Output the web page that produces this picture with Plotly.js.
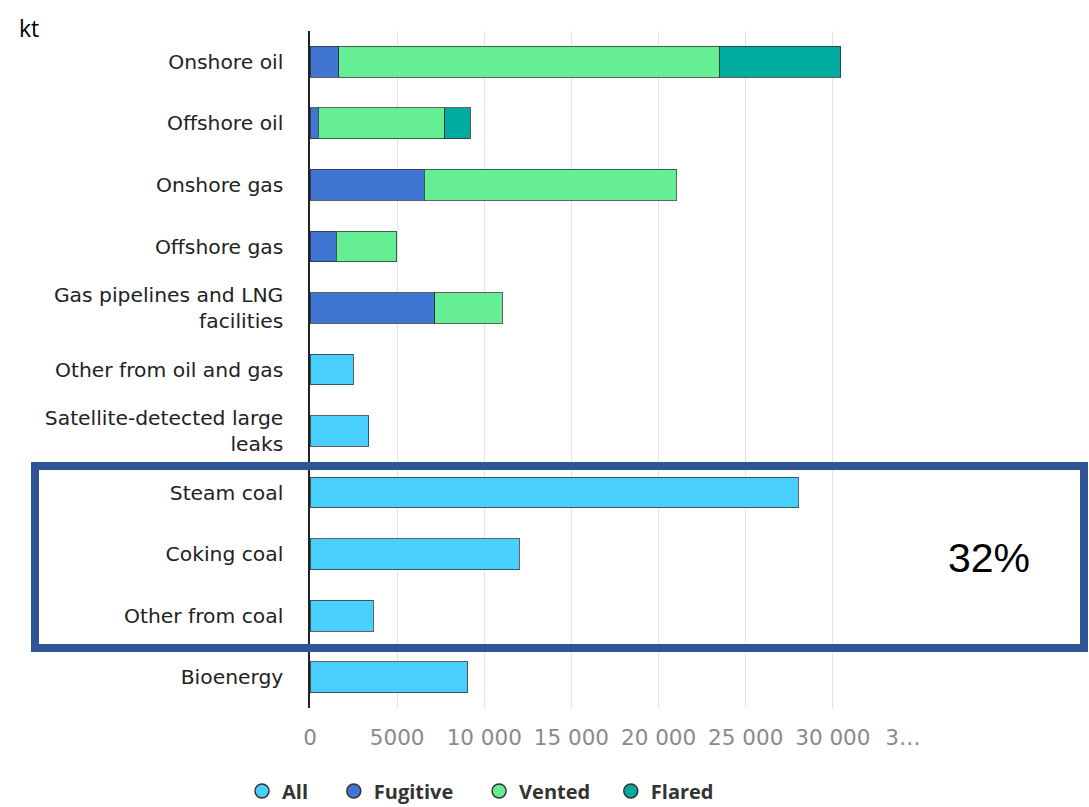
<!DOCTYPE html>
<html>
<head>
<meta charset="utf-8">
<script src="https://cdn.plot.ly/plotly-3.0.1.min.js"></script>
<style>html,body{margin:0;padding:0;background:#fff;}#chart{width:1089px;height:807px;}</style>
</head>
<body>
<div id="chart"></div>
<script>
// ---- data (kt) ----
const categories = [
  "Onshore oil", "Offshore oil", "Onshore gas", "Offshore gas",
  "Gas pipelines and LNG<br>facilities", "Other from oil and gas",
  "Satellite-detected large<br>leaks", "Steam coal", "Coking coal",
  "Other from coal", "Bioenergy"
];
const allValues      = [null, null, null, null, null, 2470, 3380, 28000, 12000, 3640, 9060];
const fugitiveValues = [1660, 470, 6550, 1520, 7150, null, null, null, null, null, null];
const ventedValues   = [21850, 7250, 14450, 3470, 3880, null, null, null, null, null, null];
const flaredValues   = [6940, 1480, null, null, null, null, null, null, null, null, null];
const tickValues = [0, 5000, 10000, 15000, 20000, 25000, 30000, 35000];
const tickLabels = ["0", "5000", "10 000", "15 000", "20 000", "25 000", "30 000", "3…"];
const seriesNames = ["All", "Fugitive", "Vented", "Flared"];
const seriesColors = ["#48CFFD", "#3F76D3", "#66EE94", "#00AB9F"];
const unitLabel = "kt";
const highlightLabel = "32%";

const pads = ["\u00a0\u00a0\u00a0\u00a0", "\u00a0\u00a0\u00a0\u00a0", "\u00a0\u00a0\u00a0", ""];
const outline = {color: "rgba(45,45,45,0.75)", width: 1};
const seriesValues = [allValues, fugitiveValues, ventedValues, flaredValues];

// truncated last label keeps the left edge of the full "35 000" label
const shownTicks = tickLabels.map((t, i) => i === tickLabels.length - 1 ? t + "\u00a0\u00a0\u00a0\u00a0\u00a0" : t);

const traces = [];
seriesValues.forEach((vals, i) => {
  traces.push({
    type: "bar", orientation: "h",
    y: categories, x: vals,
    name: seriesNames[i],
    marker: {color: seriesColors[i], line: outline},
    width: 0.5,
    showlegend: false,
    hoverinfo: "x+name"
  });
});
// legend entries (circle symbols)
seriesNames.forEach((n, i) => {
  traces.push({
    type: "scatter", mode: "markers",
    x: [null], y: [null],
    name: n + pads[i],
    marker: {symbol: "circle", size: 14, color: seriesColors[i], line: {color: "#333", width: 1.5}},
    showlegend: true, hoverinfo: "skip"
  });
});

const PL = 310, PR = 920, PT = 31, PB = 708;
const W = PR - PL, H = PB - PT;
const px = v => (v - PL) / W;
const py = v => (PB - v) / H;

const layout = {
  width: 1089, height: 807,
  margin: {l: PL, r: 1089 - PR, t: PT, b: 807 - PB, autoexpand: false},
  paper_bgcolor: "#fff", plot_bgcolor: "#fff",
  barmode: "stack",
  font: {family: "DejaVu Sans, sans-serif", color: "#222"},
  xaxis: {
    range: [0, 35000], fixedrange: true,
    tickmode: "array", tickvals: tickValues, ticktext: shownTicks,
    showgrid: true, gridcolor: "#e3e3e3", gridwidth: 1.2,
    zeroline: false, showline: false,
    ticks: "outside", ticklen: 10, tickcolor: "rgba(0,0,0,0)",
    tickfont: {family: "DejaVu Sans, sans-serif", size: 21.5, color: "#8a8a8a"}
  },
  yaxis: {
    type: "category", autorange: "reversed", fixedrange: true,
    showgrid: false, zeroline: false,
    showline: true, linecolor: "#222", linewidth: 1.6,
    ticks: "outside", ticklen: 21, tickcolor: "rgba(0,0,0,0)",
    tickfont: {family: "DejaVu Sans, sans-serif", size: 20.3, color: "#222"}
  },
  legend: {
    orientation: "h", traceorder: "normal", x: px(242), xanchor: "left",
    y: py(791), yanchor: "middle",
    font: {family: "Open Sans, sans-serif", size: 20, color: "#333", weight: "bold"},
    bgcolor: "rgba(0,0,0,0)"
  },
  shapes: [{
    type: "rect", xref: "paper", yref: "paper",
    x0: px(35), x1: px(1084), y0: py(648), y1: py(466),
    line: {color: "#2F5597", width: 8}, fillcolor: "rgba(0,0,0,0)"
  }],
  annotations: [
    {text: unitLabel, xref: "paper", yref: "paper", x: px(17), y: py(28),
     xanchor: "left", yanchor: "middle", showarrow: false,
     font: {family: "Open Sans, sans-serif", size: 23, color: "#000"}},
    {text: highlightLabel, xref: "paper", yref: "paper", x: px(989), y: py(558),
     xanchor: "center", yanchor: "middle", showarrow: false,
     font: {family: "Liberation Sans, sans-serif", size: 41, color: "#000"}}
  ],
  showlegend: true
};

Plotly.newPlot("chart", traces, layout, {displayModeBar: false, responsive: false, staticPlot: true});
</script>
</body>
</html>
